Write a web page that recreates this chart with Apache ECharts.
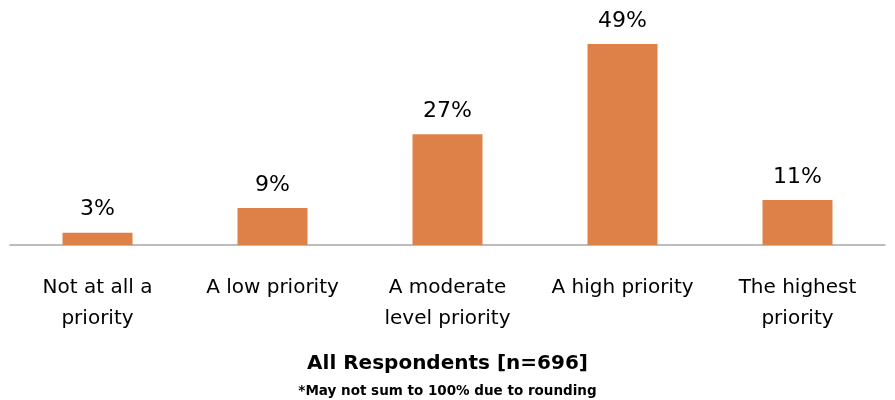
<!DOCTYPE html>
<html><head><meta charset="utf-8">
<script src="https://cdn.jsdelivr.net/npm/echarts@6/dist/echarts.min.js"></script>
<style>html,body{margin:0;padding:0;background:#fff}#c{width:895px;height:400px}</style>
</head><body><div id="c"></div>
<script>
const categories = ["Not at all a\npriority", "A low priority", "A moderate\nlevel priority", "A high priority", "The highest\npriority"];
const values = [3, 9, 27, 49, 11];
const titleText = "All Respondents [n=696]";
const noteText = "*May not sum to 100% due to rounding";
const FONT = "'DejaVu Sans', sans-serif";
const chart = echarts.init(document.getElementById('c'));
chart.setOption({
  animation: false,
  grid: {left: 10, right: 10, top: 40, bottom: 155},
  title: [
    {text: titleText, left: 'center', top: 349, textStyle: {fontFamily: FONT, fontSize: 20, fontWeight: 'bold', color: '#000'}},
    {text: noteText, left: 'center', top: 379, textStyle: {fontFamily: FONT, fontSize: 13.5, fontWeight: 'bold', color: '#000'}}
  ],
  xAxis: {
    type: 'category', data: categories,
    axisLine: {lineStyle: {color: '#A6A6A6', width: 1.5}},
    axisTick: {show: false},
    axisLabel: {fontFamily: FONT, fontSize: 20, color: '#000', margin: 27, lineHeight: 31, interval: 0}
  },
  yAxis: {type: 'value', min: 0, max: 50, show: false, splitLine: {show: false}},
  series: [{
    type: 'bar', data: values, barWidth: '40%',
    itemStyle: {color: '#DE8148'},
    label: {show: true, position: 'top', distance: 12, formatter: '{c}%', fontFamily: FONT, fontSize: 22, color: '#000'}
  }]
});
</script></body></html>
